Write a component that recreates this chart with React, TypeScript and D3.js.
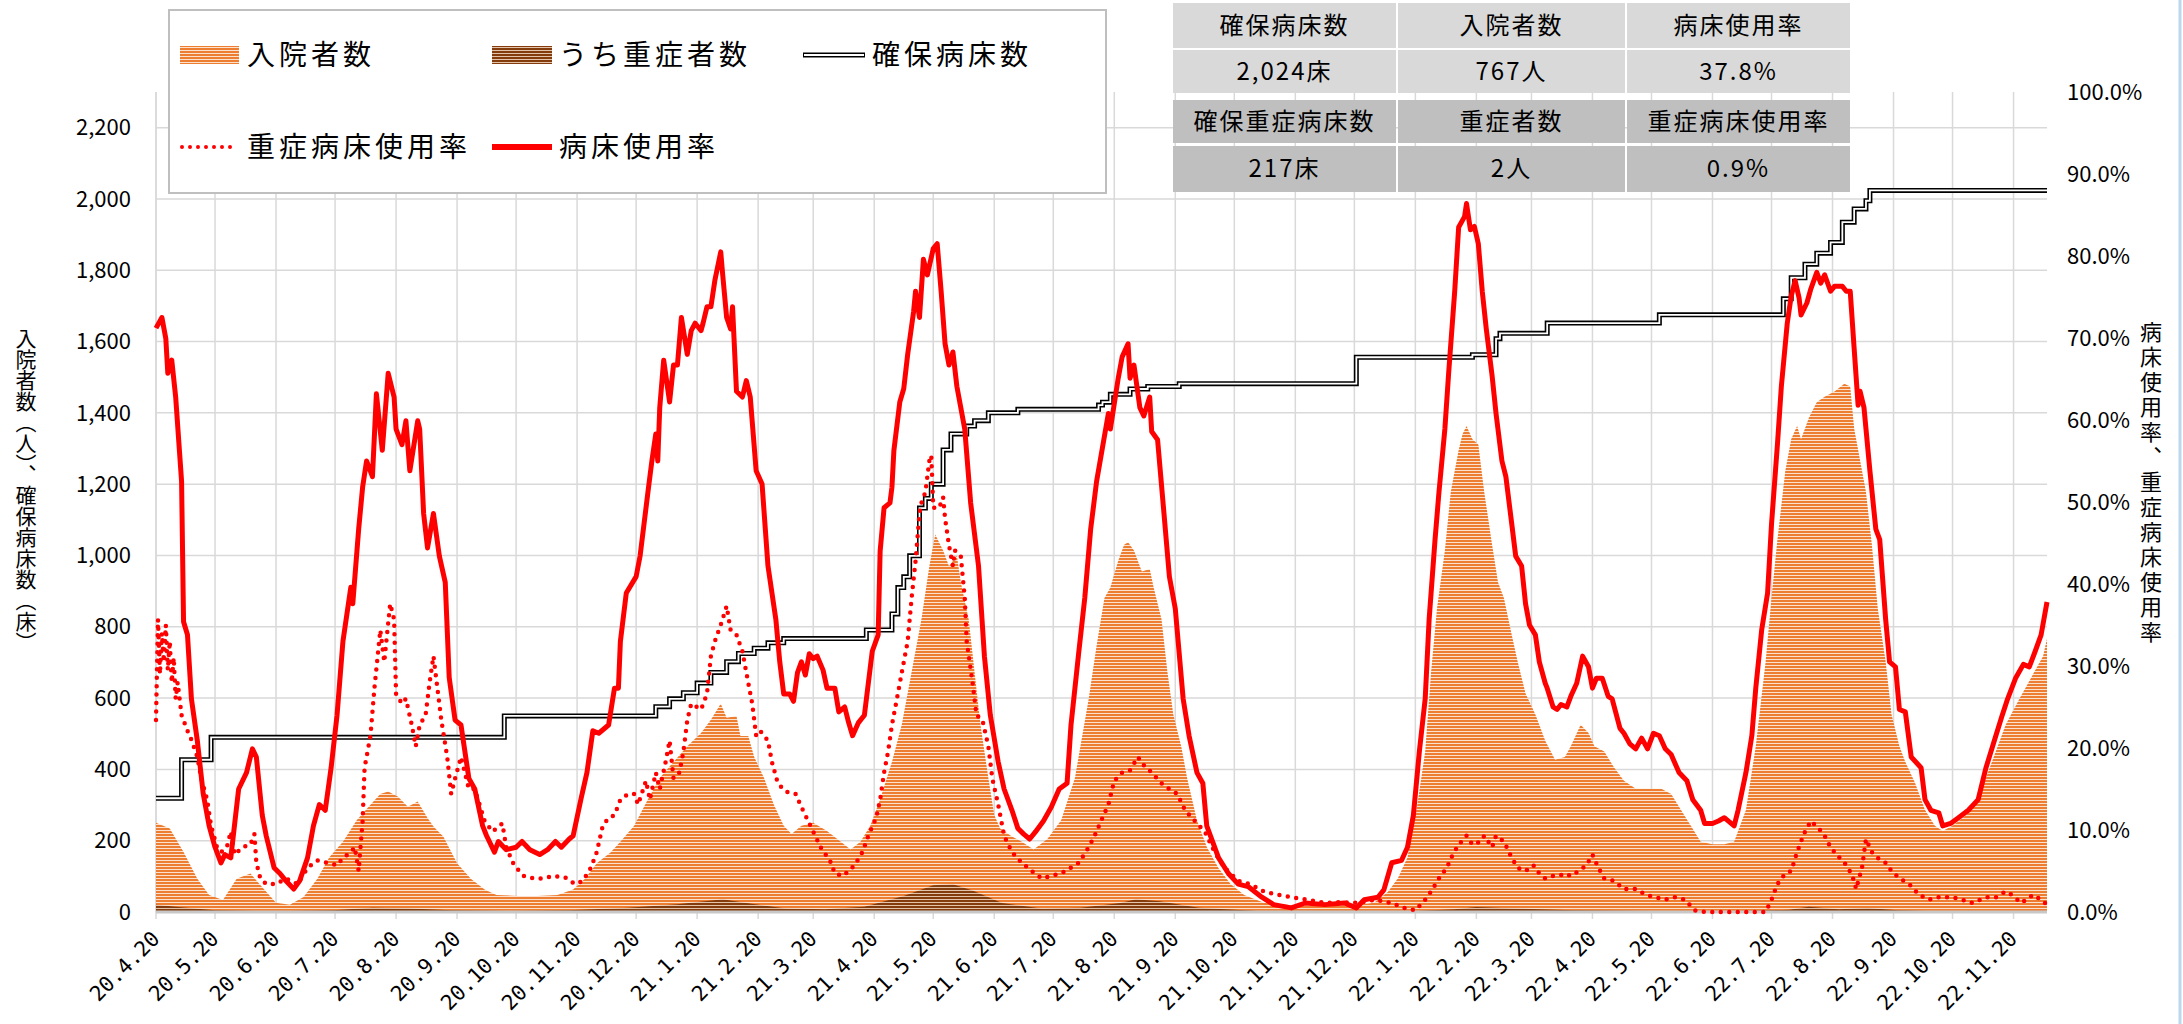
import React, { useEffect, useRef } from "react";
import * as d3 from "d3";

const WIDTH = 2183;
const HEIGHT = 1024;
const FONT = "'Noto Sans CJK JP', 'Noto Sans', sans-serif";
const TICK_FONT = "'DejaVu Sans Mono', 'Liberation Mono', monospace";

// series are [days since 2020-04-20, value]; last day is 2022-12-07
const START = new Date(2020, 3, 20);
const LAST_DAY = 961;

const xTickLabels = [
  "20.4.20", "20.5.20", "20.6.20", "20.7.20", "20.8.20", "20.9.20", "20.10.20", "20.11.20", "20.12.20",
  "21.1.20", "21.2.20", "21.3.20", "21.4.20", "21.5.20", "21.6.20", "21.7.20", "21.8.20", "21.9.20",
  "21.10.20", "21.11.20", "21.12.20", "22.1.20", "22.2.20", "22.3.20", "22.4.20", "22.5.20", "22.6.20",
  "22.7.20", "22.8.20", "22.9.20", "22.10.20", "22.11.20",
];
const leftTicks = [0, 200, 400, 600, 800, 1000, 1200, 1400, 1600, 1800, 2000, 2200];
const rightTicks = [0, 10, 20, 30, 40, 50, 60, 70, 80, 90, 100];

// 入院者数 (left axis)
const inpatients: [number, number][] = [
  [0, 250], [7, 234], [14, 168], [21, 93], [27, 48], [34, 34], [41, 93], [48, 108], [55, 63], [61, 26],
  [68, 20], [75, 42], [82, 93], [88, 153], [95, 197], [102, 257], [109, 301], [114, 331], [118, 338],
  [123, 323], [128, 295], [133, 310], [138, 264], [141, 240], [146, 212], [153, 137], [160, 93], [167, 63],
  [173, 48], [184, 45], [194, 45], [204, 48], [212, 63], [218, 93], [224, 137], [231, 167], [236, 197],
  [243, 242], [250, 316], [256, 376], [263, 421], [270, 465], [277, 502], [282, 539], [287, 584], [290, 545],
  [295, 550], [297, 494], [301, 494], [304, 435], [309, 376], [314, 301], [319, 242], [323, 219], [328, 242],
  [334, 250], [341, 227], [348, 197], [353, 175], [358, 197], [363, 242], [368, 316], [374, 421], [379, 525],
  [384, 673], [389, 821], [393, 970], [396, 1059], [400, 1014], [403, 970], [407, 999], [409, 925],
  [413, 821], [416, 673], [419, 525], [423, 376], [426, 272], [429, 234], [435, 212], [440, 197], [446, 175],
  [453, 205], [460, 257], [467, 376], [474, 598], [478, 747], [482, 881], [485, 910], [489, 985],
  [492, 1030], [494, 1037], [497, 1014], [501, 955], [505, 962], [507, 910], [511, 821], [514, 673],
  [517, 554], [521, 465], [524, 376], [529, 257], [534, 182], [540, 123], [546, 79], [553, 48], [563, 26],
  [577, 19], [594, 16], [609, 19], [619, 26], [626, 56], [631, 93], [636, 153], [641, 301], [645, 450],
  [648, 673], [651, 851], [655, 1014], [658, 1178], [662, 1296], [664, 1341], [666, 1363], [669, 1326],
  [672, 1311], [675, 1178], [679, 1030], [682, 925], [685, 881], [689, 777], [692, 702], [696, 613],
  [701, 554], [706, 480], [711, 427], [716, 435], [719, 465], [724, 525], [728, 502], [731, 465], [736, 450],
  [741, 405], [746, 368], [752, 346], [758, 346], [765, 346], [770, 331], [775, 286], [780, 242], [785, 197],
  [791, 190], [797, 190], [802, 197], [808, 286], [813, 465], [818, 702], [821, 881], [824, 1044],
  [828, 1237], [831, 1326], [834, 1363], [836, 1326], [840, 1386], [844, 1430], [848, 1445], [853, 1460],
  [858, 1482], [861, 1474], [863, 1356], [866, 1267], [869, 1178], [872, 1030], [875, 851], [879, 702],
  [882, 554], [886, 465], [889, 421], [894, 361], [899, 286], [904, 242], [908, 227], [913, 242], [920, 272],
  [926, 316], [933, 421], [940, 525], [947, 598], [953, 658], [959, 717], [961, 767],
];

// うち重症者数 (left axis)
const severePatients: [number, number][] = [
  [0, 20], [10, 15], [30, 5], [60, 2], [90, 5], [110, 12], [130, 10], [150, 5], [180, 3], [210, 5],
  [240, 12], [265, 22], [288, 36], [300, 25], [320, 10], [340, 8], [360, 15], [380, 45], [395, 75],
  [405, 78], [415, 60], [430, 25], [450, 10], [470, 12], [490, 25], [498, 36], [510, 30], [530, 12],
  [560, 3], [600, 1], [640, 3], [660, 8], [671, 14], [690, 10], [720, 5], [760, 3], [800, 2], [830, 6],
  [840, 15], [855, 8], [870, 11], [885, 5], [900, 3], [930, 2], [961, 2],
];

// 確保病床数 (left axis, step changes)
const securedBeds: [number, number][] = [
  [0, 319], [13, 427], [28, 490], [177, 550], [254, 576], [261, 598], [268, 615], [275, 642], [282, 672],
  [290, 702], [296, 725], [304, 740], [311, 755], [319, 767], [361, 791], [374, 836], [377, 910],
  [380, 940], [383, 999], [388, 1133], [391, 1160], [394, 1200], [400, 1296], [404, 1341], [412, 1363],
  [416, 1378], [423, 1400], [438, 1410], [479, 1422], [481, 1430], [485, 1452], [495, 1467], [504, 1474],
  [520, 1482], [610, 1556], [669, 1563], [681, 1608], [683, 1623], [707, 1652], [764, 1675], [827, 1720],
  [831, 1779], [838, 1817], [844, 1848], [851, 1878], [857, 1935], [863, 1972], [869, 1995], [871, 2024],
  [961, 2024],
];

// 重症病床使用率 (right axis, %)
const severeBedRate: [number, number][] = [
  [0, 23.4], [1, 35.7], [2, 29], [3, 34], [4, 30.5], [5, 35], [6, 29.5], [7, 33], [8, 28], [9, 31],
  [10, 26], [11, 28], [13, 24], [16, 22.1], [18, 21], [21, 18.9], [23, 16.3], [26, 13.7], [28, 10.5],
  [31, 7.9], [33, 7.3], [36, 7.9], [38, 9.8], [40, 7], [44, 7.9], [48, 8.2], [50, 9.5], [51, 6], [53, 4.1],
  [56, 3.4], [61, 3.4], [66, 4.1], [72, 3.4], [77, 5.4], [82, 6.3], [87, 6], [92, 5.7], [95, 6.6], [99, 7.3],
  [101, 7.9], [103, 5], [105, 11.1], [106, 17.6], [109, 21.5], [111, 27.3], [114, 34.4], [116, 30.5],
  [119, 37.6], [121, 35.7], [122, 26.6], [125, 25.4], [127, 26], [130, 22.8], [132, 20.2], [134, 22.8],
  [137, 24], [139, 27.9], [141, 31.2], [143, 27.3], [145, 23.4], [148, 18.9], [150, 14.4], [152, 16.3],
  [155, 18.9], [159, 15], [162, 15], [167, 11.1], [171, 9.8], [176, 10.8], [178, 7.9], [182, 5.7],
  [187, 4.4], [192, 4.1], [197, 4.1], [202, 4.4], [208, 4.2], [213, 3.4], [217, 3.8], [221, 5.4],
  [224, 7.3], [227, 10.5], [230, 11.5], [233, 11.8], [236, 13.7], [240, 14.4], [243, 14.4], [245, 13.1],
  [249, 16], [251, 13.7], [254, 17], [256, 15], [259, 18.3], [261, 20.9], [263, 16.3], [266, 17],
  [268, 19.5], [270, 23.4], [272, 25.4], [277, 24.7], [280, 26.6], [282, 31.2], [284, 33], [287, 35],
  [290, 37.3], [292, 34.4], [295, 33.8], [298, 31.8], [300, 29.2], [303, 25.4], [305, 21.5], [307, 22.1],
  [311, 20.9], [313, 18.3], [316, 15.7], [320, 14.7], [325, 14.4], [328, 12.8], [332, 10.8], [335, 9.3],
  [339, 7.3], [342, 6.6], [345, 4.7], [349, 4.4], [352, 5], [355, 5.7], [359, 7.3], [362, 9.3],
  [366, 11.5], [368, 13.7], [370, 17], [372, 19.5], [374, 22.8], [377, 26.6], [379, 29.2], [382, 33],
  [384, 38.3], [386, 42.8], [388, 48.6], [389, 49.9], [391, 51.2], [393, 55], [394, 55.7], [395, 49.3],
  [398, 49.3], [400, 50.6], [401, 48], [403, 44.7], [405, 42.2], [406, 44.1], [409, 43.4], [411, 38.3],
  [412, 33], [415, 27.9], [417, 24], [420, 23.4], [423, 20.2], [425, 16.3], [428, 13.1], [431, 9.3],
  [435, 7.3], [440, 6], [445, 5], [450, 4.1], [455, 4.4], [460, 4.7], [465, 5.4], [469, 6], [474, 7.9],
  [477, 9.3], [481, 11.5], [484, 13.1], [487, 16], [491, 17], [495, 17.3], [499, 18.9], [502, 17.9],
  [506, 17], [511, 15.7], [515, 15], [519, 14.4], [523, 12.4], [528, 11.1], [533, 9.8], [538, 7.3],
  [543, 5.4], [550, 3.8], [556, 3.4], [563, 2.5], [570, 2.1], [577, 1.8], [585, 1.5], [594, 1.1],
  [602, 1.2], [611, 1.1], [619, 1.5], [628, 1.1], [634, 0.5], [640, 0.2], [645, 1.5], [648, 2.5],
  [652, 4.1], [656, 5.4], [659, 7], [662, 8.2], [666, 9.3], [669, 8.2], [673, 8.6], [675, 9.3], [679, 7.9],
  [681, 9.3], [685, 8.6], [689, 6.6], [692, 5.4], [696, 5], [700, 5.7], [703, 4.7], [706, 4.1], [709, 4.4],
  [713, 4.4], [716, 4.7], [719, 4.4], [723, 5], [727, 5.7], [730, 7], [733, 5.4], [736, 4.1], [741, 3.8],
  [746, 2.8], [752, 2.8], [757, 2.1], [762, 1.8], [767, 1.5], [772, 1.8], [777, 1.5], [782, 0.2], [787, 0],
  [796, 0], [804, 0], [814, 0], [818, 0], [821, 1.5], [824, 3.4], [828, 4.7], [831, 5], [834, 7.3],
  [836, 8.6], [838, 9.8], [841, 11.1], [845, 10.2], [848, 9.3], [851, 7.9], [854, 7], [858, 6], [860, 5.4],
  [863, 3.8], [864, 2.8], [867, 5.4], [869, 8.9], [872, 7.3], [875, 6.6], [879, 6], [882, 5], [886, 4.1],
  [891, 3.4], [896, 2.1], [901, 1.5], [906, 1.8], [913, 1.8], [918, 1.5], [923, 1.1], [930, 1.8],
  [935, 1.8], [940, 2.5], [943, 2.1], [948, 1.1], [954, 2.1], [958, 1.5], [961, 0.9],
];

// 病床使用率 (right axis, %)
const bedRate: [number, number][] = [
  [0, 71.2], [3, 72.5], [5, 69.9], [6, 65.7], [8, 67.3], [10, 62.8], [13, 52.5], [14, 35.4], [16, 33.8],
  [18, 26], [21, 20.9], [24, 14.4], [27, 10.5], [30, 7.9], [33, 6], [35, 7], [38, 6.6], [42, 15], [46, 17],
  [49, 19.9], [51, 18.9], [54, 11.8], [56, 9.3], [60, 5.4], [63, 4.7], [66, 3.8], [70, 2.8], [73, 3.8],
  [77, 6.6], [80, 10.5], [83, 13.1], [86, 12.4], [89, 17.6], [92, 24], [95, 33], [99, 39.6], [100, 37.6],
  [103, 46.7], [105, 51.8], [107, 55], [110, 53.1], [112, 63.2], [115, 56.3], [118, 65.7], [121, 62.8],
  [122, 58.9], [125, 57], [127, 59.9], [129, 53.8], [133, 59.9], [134, 58.9], [136, 48.6], [138, 44.4],
  [141, 48.6], [144, 43.4], [147, 40.2], [149, 28.6], [152, 23.4], [155, 22.8], [159, 16.3], [162, 15],
  [166, 10.5], [168, 9.3], [172, 7.3], [174, 8.6], [178, 7.6], [183, 7.9], [186, 8.6], [190, 7.6], [195, 7],
  [199, 7.6], [203, 8.6], [206, 7.9], [210, 8.9], [212, 9.3], [216, 13.8], [219, 17], [222, 22.1],
  [225, 21.8], [230, 22.8], [233, 27.3], [235, 27.3], [236, 33], [239, 38.9], [244, 40.9], [246, 43.4],
  [250, 51.2], [252, 55], [254, 58.3], [255, 55], [256, 61.5], [258, 67.3], [261, 62.2], [263, 66.7],
  [265, 66.7], [267, 72.5], [270, 68], [272, 70.9], [274, 71.8], [277, 70.9], [278, 71.8], [280, 73.8],
  [282, 73.8], [284, 77], [287, 80.5], [288, 77.7], [290, 72.5], [292, 71.1], [293, 73.8], [295, 63.5],
  [298, 62.8], [300, 64.8], [302, 62.8], [305, 53.8], [308, 52.2], [311, 42.2], [315, 35.7], [317, 30.5],
  [319, 26.6], [322, 26.6], [324, 25.7], [326, 29.2], [328, 30.5], [330, 28.9], [332, 31.5], [334, 30.9],
  [336, 31.2], [339, 29.5], [341, 27.3], [345, 27.3], [347, 24.4], [350, 25], [352, 23.1], [354, 21.5],
  [357, 23.1], [360, 24], [362, 27.9], [364, 31.8], [367, 33.8], [368, 44], [370, 49.3], [373, 49.9],
  [374, 51.8], [375, 56.3], [378, 62.2], [380, 63.8], [382, 68], [385, 73.2], [386, 75.7], [388, 72.5],
  [390, 79.6], [392, 77.7], [395, 80.9], [397, 81.5], [399, 75.7], [401, 69.3], [403, 66.7], [405, 68.3],
  [407, 64.1], [411, 58.9], [414, 49.9], [418, 42.2], [421, 31.2], [424, 24], [428, 18.3], [431, 15],
  [435, 12.4], [438, 10.2], [441, 9.5], [444, 8.9], [447, 9.8], [451, 11.1], [455, 12.8], [459, 15],
  [463, 15.7], [465, 22.8], [469, 31.8], [472, 38.3], [475, 46.7], [478, 52.5], [484, 60.8], [485, 58.9],
  [489, 65.1], [491, 67.7], [494, 69.3], [495, 65.1], [497, 66.7], [500, 61.5], [502, 60.5], [505, 62.8],
  [506, 58.6], [509, 57.6], [512, 49.3], [515, 40.9], [518, 37], [522, 26], [525, 21.5], [529, 17],
  [532, 15.7], [534, 10.5], [540, 6.6], [545, 4.7], [550, 3.4], [555, 3.1], [562, 1.8], [568, 0.9],
  [577, 0.5], [584, 1.1], [594, 0.9], [604, 1.1], [610, 0.5], [614, 1.5], [621, 1.8], [624, 2.7], [628, 6],
  [633, 6.3], [636, 7.9], [639, 11.8], [642, 19.5], [645, 26], [647, 35.7], [650, 45.4], [652, 51.2],
  [655, 58.9], [657, 66], [660, 75.7], [662, 83.5], [665, 84.8], [666, 86.4], [668, 83.2], [670, 83.6],
  [672, 81.5], [674, 75.7], [676, 71.2], [679, 65.4], [681, 60.8], [684, 55], [686, 53.1], [689, 47.3],
  [691, 43.4], [694, 42.2], [696, 37.6], [698, 35], [701, 33.8], [703, 30.5], [706, 27.9], [707, 27.3],
  [710, 25], [712, 24.7], [714, 25.3], [717, 25], [719, 26.3], [722, 27.9], [725, 31.2], [728, 29.9],
  [730, 27.3], [732, 28.5], [735, 28.5], [738, 26.3], [740, 26], [744, 22.4], [746, 21.8], [749, 20.5],
  [752, 19.9], [755, 21.2], [758, 19.9], [761, 21.8], [764, 21.5], [767, 19.9], [770, 19.2], [774, 17],
  [778, 16], [781, 13.7], [785, 12.4], [787, 10.8], [791, 10.8], [794, 11.1], [797, 11.5], [802, 10.5],
  [804, 12.4], [808, 17], [811, 21.5], [813, 27.3], [816, 34.4], [819, 38.9], [821, 47.3], [824, 57],
  [826, 64.1], [829, 71.8], [831, 75.1], [833, 77], [835, 74.9], [836, 72.8], [839, 74.3], [841, 76],
  [844, 78], [846, 76.7], [848, 77.7], [851, 75.7], [853, 76.3], [857, 76.3], [859, 75.7], [861, 75.7],
  [863, 68.7], [865, 61.8], [866, 63.5], [868, 61.5], [871, 53.8], [874, 46.7], [876, 45.4], [879, 35.7],
  [881, 30.5], [884, 29.9], [886, 24.7], [889, 24.4], [892, 18.9], [897, 17.6], [899, 13.7], [902, 12.4],
  [906, 12.1], [908, 10.5], [912, 10.8], [916, 11.5], [921, 12.4], [926, 13.7], [930, 17.6], [935, 21.5],
  [938, 23.8], [941, 26], [945, 28.5], [949, 30.2], [952, 29.9], [955, 31.8], [958, 33.8], [961, 37.8],
];

const legendRow1 = ["入院者数", "うち重症者数", "確保病床数"];
const legendRow2 = ["重症病床使用率", "病床使用率"];

const tableHead1 = ["確保病床数", "入院者数", "病床使用率"];
const tableVal1 = ["2,024床", "767人", "37.8%"];
const tableHead2 = ["確保重症病床数", "重症者数", "重症病床使用率"];
const tableVal2 = ["217床", "2人", "0.9%"];

const parseTick = (s: string) => {
  const [yy, m, d] = s.split(".").map(Number);
  return new Date(2000 + yy, m - 1, d);
};

const CovidBedChart = () => {
  const ref = useRef<SVGSVGElement>(null);

  useEffect(() => {
    const svg = d3.select(ref.current);
    svg.selectAll("*").remove();

    const left = 156, right = 2047, top = 92, bottom = 912;

    const x = d3.scaleTime()
      .domain([START, d3.timeDay.offset(START, LAST_DAY)])
      .range([left, right]);
    const yL = d3.scaleLinear().domain([0, 2300]).range([bottom, top]);
    const yR = d3.scaleLinear().domain([0, 100]).range([bottom, top]);
    const dx = (d: number) => x(d3.timeDay.offset(START, d));

    // stripe fills
    const defs = svg.append("defs");
    const stripe = (id: string, dark: string, light: string) => {
      const p = defs.append("pattern")
        .attr("id", id)
        .attr("patternUnits", "userSpaceOnUse")
        .attr("width", 10)
        .attr("height", 3);
      p.append("rect").attr("width", 10).attr("height", 3).attr("fill", light);
      p.append("rect").attr("width", 10).attr("height", 2).attr("fill", dark);
    };
    stripe("stripeOrange", "#ED7D31", "#FBE2CF");
    stripe("stripeBrown", "#843C0C", "#E2C3AC");

    // grid
    const grid = svg.append("g");
    grid.selectAll(".hg")
      .data(leftTicks)
      .enter()
      .append("line")
      .attr("x1", left).attr("x2", right)
      .attr("y1", d => yL(d)).attr("y2", d => yL(d))
      .attr("stroke", "#D9D9D9").attr("stroke-width", 1.5);
    const tickDates = xTickLabels.map(parseTick);
    grid.selectAll(".vg")
      .data(tickDates)
      .enter()
      .append("line")
      .attr("x1", d => x(d)).attr("x2", d => x(d))
      .attr("y1", top).attr("y2", bottom + 7)
      .attr("stroke", "#D9D9D9").attr("stroke-width", 1.5);
    grid.append("line")
      .attr("x1", left).attr("x2", left)
      .attr("y1", top).attr("y2", bottom)
      .attr("stroke", "#D9D9D9").attr("stroke-width", 1.5);

    // areas
    const area = d3.area<[number, number]>()
      .x(d => dx(d[0]))
      .y0(yL(0))
      .y1(d => yL(d[1]));
    svg.append("path").datum(inpatients).attr("d", area).attr("fill", "url(#stripeOrange)");
    svg.append("path").datum(severePatients).attr("d", area).attr("fill", "url(#stripeBrown)");

    // x axis line
    svg.append("line")
      .attr("x1", left).attr("x2", right)
      .attr("y1", bottom).attr("y2", bottom)
      .attr("stroke", "#C8C8C8").attr("stroke-width", 3);

    // secured beds: double line
    const step = d3.line<[number, number]>()
      .x(d => dx(d[0]))
      .y(d => yL(d[1]))
      .curve(d3.curveStepAfter);
    svg.append("path").datum(securedBeds).attr("d", step)
      .attr("fill", "none").attr("stroke", "#000").attr("stroke-width", 5);
    svg.append("path").datum(securedBeds).attr("d", step)
      .attr("fill", "none").attr("stroke", "#fff").attr("stroke-width", 1.8);

    const rateLine = d3.line<[number, number]>()
      .x(d => dx(d[0]))
      .y(d => yR(d[1]));
    svg.append("path").datum(severeBedRate).attr("d", rateLine)
      .attr("fill", "none").attr("stroke", "#FF0000").attr("stroke-width", 4.5)
      .attr("stroke-dasharray", "0 8.5").attr("stroke-linecap", "round");
    svg.append("path").datum(bedRate).attr("d", rateLine)
      .attr("fill", "none").attr("stroke", "#FF0000").attr("stroke-width", 5)
      .attr("stroke-linejoin", "round");

    // left axis labels
    svg.selectAll(".yl")
      .data(leftTicks)
      .enter()
      .append("text")
      .attr("x", 131).attr("y", d => yL(d))
      .attr("dy", "0.35em")
      .attr("text-anchor", "end")
      .style("font-family", FONT).style("font-size", "22px").style("fill", "#000")
      .text(d => d3.format(",")(d));

    // right axis labels
    svg.selectAll(".yr")
      .data(rightTicks)
      .enter()
      .append("text")
      .attr("x", 2067).attr("y", d => yR(d))
      .attr("dy", "0.35em")
      .style("font-family", FONT).style("font-size", "22px").style("fill", "#000")
      .text(d => d.toFixed(1) + "%");

    // x axis labels (rotated)
    svg.selectAll(".xl")
      .data(xTickLabels)
      .enter()
      .append("text")
      .attr("transform", (d, i) => `translate(${x(tickDates[i]) + 5},${bottom + 28}) rotate(-45)`)
      .attr("text-anchor", "end")
      .style("font-family", TICK_FONT).style("font-size", "21px").style("fill", "#000")
      .text(d => d);

    // axis titles
    svg.append("text")
      .attr("x", 26).attr("y", 490)
      .attr("text-anchor", "middle")
      .style("writing-mode", "vertical-rl")
      .style("font-family", FONT).style("font-size", "21px").style("fill", "#000")
      .text("入院者数（人）、確保病床数（床）");
    svg.append("text")
      .attr("x", 2151).attr("y", 483)
      .attr("text-anchor", "middle")
      .style("writing-mode", "vertical-rl")
      .style("font-family", FONT).style("font-size", "22px").style("letter-spacing", "3px").style("fill", "#000")
      .text("病床使用率、重症病床使用率");

    // legend
    const lg = svg.append("g");
    lg.append("rect")
      .attr("x", 169).attr("y", 10).attr("width", 937).attr("height", 183)
      .attr("fill", "#fff").attr("stroke", "#BFBFBF").attr("stroke-width", 2);
    const row1Y = 55, row2Y = 147;
    const row1X = [180, 492, 803];
    const row2X = [180, 492];
    const labelStyle = (sel: d3.Selection<SVGTextElement, unknown, null, undefined>) =>
      sel.attr("dy", "0.35em")
        .style("font-family", FONT).style("font-size", "28px").style("letter-spacing", "4px")
        .style("fill", "#000");
    lg.append("rect").attr("x", row1X[0]).attr("y", row1Y - 9).attr("width", 59).attr("height", 18)
      .attr("fill", "url(#stripeOrange)");
    lg.append("rect").attr("x", row1X[1]).attr("y", row1Y - 9).attr("width", 60).attr("height", 18)
      .attr("fill", "url(#stripeBrown)");
    lg.append("line").attr("x1", row1X[2]).attr("x2", row1X[2] + 62).attr("y1", row1Y).attr("y2", row1Y)
      .attr("stroke", "#000").attr("stroke-width", 5);
    lg.append("line").attr("x1", row1X[2] + 1).attr("x2", row1X[2] + 61).attr("y1", row1Y).attr("y2", row1Y)
      .attr("stroke", "#fff").attr("stroke-width", 1.8);
    lg.append("line").attr("x1", row2X[0] + 2).attr("x2", row2X[0] + 58).attr("y1", row2Y).attr("y2", row2Y)
      .attr("stroke", "#FF0000").attr("stroke-width", 4).attr("stroke-dasharray", "0 8")
      .attr("stroke-linecap", "round");
    lg.append("line").attr("x1", row2X[1]).attr("x2", row2X[1] + 60).attr("y1", row2Y).attr("y2", row2Y)
      .attr("stroke", "#FF0000").attr("stroke-width", 6);
    const row1TextX = [247, 559, 872];
    const row2TextX = [247, 559];
    legendRow1.forEach((t, i) => {
      lg.append("text").attr("x", row1TextX[i]).attr("y", row1Y).call(labelStyle).text(t);
    });
    legendRow2.forEach((t, i) => {
      lg.append("text").attr("x", row2TextX[i]).attr("y", row2Y).call(labelStyle).text(t);
    });

    // summary table
    const cols = [1172, 1397, 1626, 1851];
    const rows = [
      { y0: 3, y1: 48, fill: "#D9D9D9", cells: tableHead1 },
      { y0: 50, y1: 93, fill: "#D9D9D9", cells: tableVal1 },
      { y0: 100, y1: 143, fill: "#BFBFBF", cells: tableHead2 },
      { y0: 146, y1: 192, fill: "#BFBFBF", cells: tableVal2 },
    ];
    const tb = svg.append("g");
    rows.forEach(r => {
      r.cells.forEach((c, i) => {
        tb.append("rect")
          .attr("x", cols[i] + 1).attr("y", r.y0)
          .attr("width", cols[i + 1] - cols[i] - 2).attr("height", r.y1 - r.y0)
          .attr("fill", r.fill);
        tb.append("text")
          .attr("x", (cols[i] + cols[i + 1]) / 2).attr("y", (r.y0 + r.y1) / 2)
          .attr("dy", "0.35em")
          .attr("text-anchor", "middle")
          .style("font-family", FONT).style("font-size", "24px").style("letter-spacing", "2px")
          .style("fill", "#000")
          .text(c);
      });
    });

    // right frame edge
    svg.append("line")
      .attr("x1", 2180).attr("x2", 2180).attr("y1", 0).attr("y2", HEIGHT)
      .attr("stroke", "#BDD7EE").attr("stroke-width", 3);
  }, []);

  return (
    <svg
      ref={ref}
      width={WIDTH}
      height={HEIGHT}
      style={{ position: "absolute", left: 0, top: 0, background: "#fff" }}
    />
  );
};

export default function App() {
  return <CovidBedChart />;
}
